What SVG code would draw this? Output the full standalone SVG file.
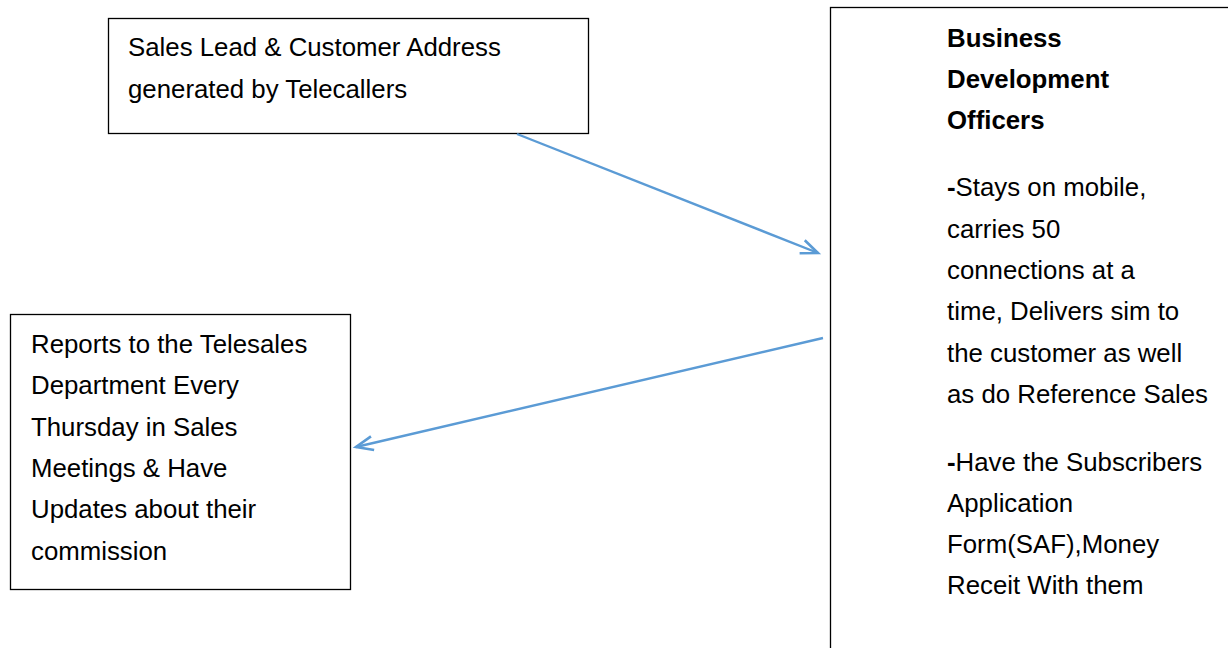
<svg xmlns="http://www.w3.org/2000/svg" width="1228" height="648" viewBox="0 0 1228 648">
<style>
.box{fill:#fff;stroke:#000;stroke-width:1.3}
.t{font-family:"Liberation Sans",Arial,sans-serif;font-size:25.8px;fill:#000}
.b{font-weight:bold}
.c{fill:none;stroke:#5b9bd5;stroke-width:2.4}
</style>
<defs>
<marker id="ah" markerUnits="userSpaceOnUse" markerWidth="24" markerHeight="20" viewBox="-20 -10 24 20" refX="0" refY="0" orient="auto">
<path d="M-17,-7 L0,0 L-17,7" fill="none" stroke="#5b9bd5" stroke-width="2.6"/>
</marker>
</defs>
<rect width="1228" height="648" fill="#fff"/>
<g id="node-leads">
<rect class="box" x="108.5" y="18.5" width="480" height="115"/>
<text class="t" x="128" y="56">Sales Lead &amp; Customer Address</text>
<text class="t" x="128" y="98">generated by Telecallers</text>
</g>
<g id="node-reports">
<rect class="box" x="10.5" y="314.5" width="340" height="275"/>
<text class="t" x="31" y="353">Reports to the Telesales</text>
<text class="t" x="31" y="394">Department Every</text>
<text class="t" x="31" y="436">Thursday in Sales</text>
<text class="t" x="31" y="477">Meetings &amp; Have</text>
<text class="t" x="31" y="518">Updates about their</text>
<text class="t" x="31" y="560">commission</text>
</g>
<g id="node-bdo">
<rect class="box" x="830.5" y="7.5" width="420" height="660"/>
<text class="t b" x="947" y="47">Business</text>
<text class="t b" x="947" y="88">Development</text>
<text class="t b" x="947" y="129">Officers</text>
<text class="t" x="947" y="196"><tspan class="b">-</tspan>Stays on mobile,</text>
<text class="t" x="947" y="238">carries 50</text>
<text class="t" x="947" y="279">connections at a</text>
<text class="t" x="947" y="320">time, Delivers sim to</text>
<text class="t" x="947" y="362">the customer as well</text>
<text class="t" x="947" y="403">as do Reference Sales</text>
<text class="t" x="947" y="471"><tspan class="b">-</tspan>Have the Subscribers</text>
<text class="t" x="947" y="512">Application</text>
<text class="t" x="947" y="553">Form(SAF),Money</text>
<text class="t" x="947" y="594">Receit With them</text>
</g>
<g id="connectors">
<line class="c" x1="517" y1="134" x2="818" y2="253" marker-end="url(#ah)"/>
<line class="c" x1="823" y1="338" x2="356" y2="447" marker-end="url(#ah)"/>
</g>
</svg>
